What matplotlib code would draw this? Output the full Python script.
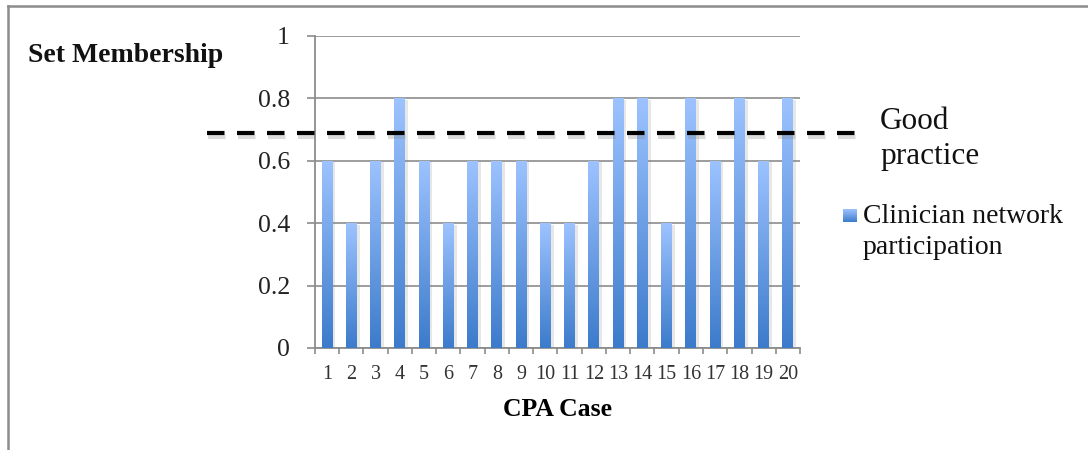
import numpy as np
import matplotlib
matplotlib.use("Agg")
import matplotlib.pyplot as plt
import matplotlib.patheffects as pe
from matplotlib.lines import Line2D
from matplotlib.colors import LinearSegmentedColormap

plt.rcParams['font.family'] = ['Liberation Serif', 'DejaVu Serif']

# set membership score for each CPA case
cases = list(range(1, 21))
membership = [0.6, 0.4, 0.6, 0.8, 0.6, 0.4, 0.6, 0.6, 0.6, 0.4,
              0.4, 0.6, 0.8, 0.8, 0.4, 0.8, 0.6, 0.8, 0.6, 0.8]
good_practice = 0.69
series_name = "Clinician network\nparticipation"

grid_col = '#8c8c8c'
blues = LinearSegmentedColormap.from_list('bar_grad', ['#3c7bcb', '#9dc3ff'])
grad = np.linspace(0, 1, 256).reshape(-1, 1)

fig = plt.figure(figsize=(10.88, 4.5), dpi=100)
ax = fig.add_axes([0.2895, 0.2267, 0.4458, 0.6933])

bars = ax.bar(cases, membership, width=0.45, color='#6a9ee8', zorder=2,
              path_effects=[pe.SimplePatchShadow(offset=(2, -1), shadow_rgbFace='#888888', alpha=0.2),
                            pe.Normal()])
# vertical gradient inside every bar
for b in bars:
    x0, y0 = b.get_x(), b.get_y()
    im = ax.imshow(grad, cmap=blues, origin='lower', aspect='auto', zorder=3,
                   extent=(x0, x0 + b.get_width(), y0, y0 + b.get_height()))
    im.set_clip_path(b)

ax.set_xlim(0.5, 20.5)
ax.set_ylim(0, 1)
ax.set_yticks(np.arange(0, 1.01, 0.2))
ax.set_yticklabels(['0', '0.2', '0.4', '0.6', '0.8', '1'])
ax.set_xticks(cases)
ax.set_xticks(np.arange(0.5, 21, 1), minor=True)
ax.tick_params(axis='y', length=6, width=1.2, color=grid_col, pad=12, labelsize=18.5, labelcolor='#222222')
ax.tick_params(axis='x', which='major', length=0, pad=12, labelsize=14.5, labelcolor='#333333')
ax.tick_params(axis='x', which='minor', length=4, width=1.2, color=grid_col)
ax.grid(axis='y', color=grid_col, lw=1.2, zorder=0)
for s in ['top', 'right']:
    ax.spines[s].set_visible(False)
for s in ['left', 'bottom']:
    ax.spines[s].set_color(grid_col)
    ax.spines[s].set_linewidth(1.3)
ax.set_xlabel('CPA Case', fontsize=18.5, fontweight='bold', labelpad=10)

# dashed benchmark line running past both sides of the axes
ax.plot([-0.223, 1.134], [good_practice, good_practice], transform=ax.get_yaxis_transform(),
        color='black', lw=3, ls=(0, (4.2, 3.0)), clip_on=False, zorder=5,
        path_effects=[pe.SimpleLineShadow(offset=(1, -3), shadow_color='#888888', alpha=0.3),
                      pe.Normal()])
fig.text(880 / 1088, 1 - 139 / 450, 'Good\npractice', fontsize=22.5, ha='left', va='center',
         linespacing=1.3, color='#111111')

fig.text(28 / 1088, 1 - 55 / 450, 'Set Membership', fontsize=20, fontweight='bold',
         ha='left', va='center', color='#111111')

# legend entry: gradient square plus label
lax = fig.add_axes([843 / 1088, 1 - 222 / 450, 14 / 1088, 13 / 450])
lax.imshow(grad, cmap=blues, origin='lower', aspect='auto')
lax.axis('off')
fig.text(863 / 1088, 1 - 232 / 450, series_name, fontsize=20, ha='left', va='center',
         linespacing=1.3, color='#111111')

# outer frame (left and top edges)
fig.add_artist(Line2D([8 / 1088, 8 / 1088], [0, 1 - 6 / 450], color=grid_col, lw=1.8))
fig.add_artist(Line2D([8 / 1088, 1], [1 - 6 / 450, 1 - 6 / 450], color=grid_col, lw=1.8))

fig.savefig('out.png', dpi=100, facecolor='white')
